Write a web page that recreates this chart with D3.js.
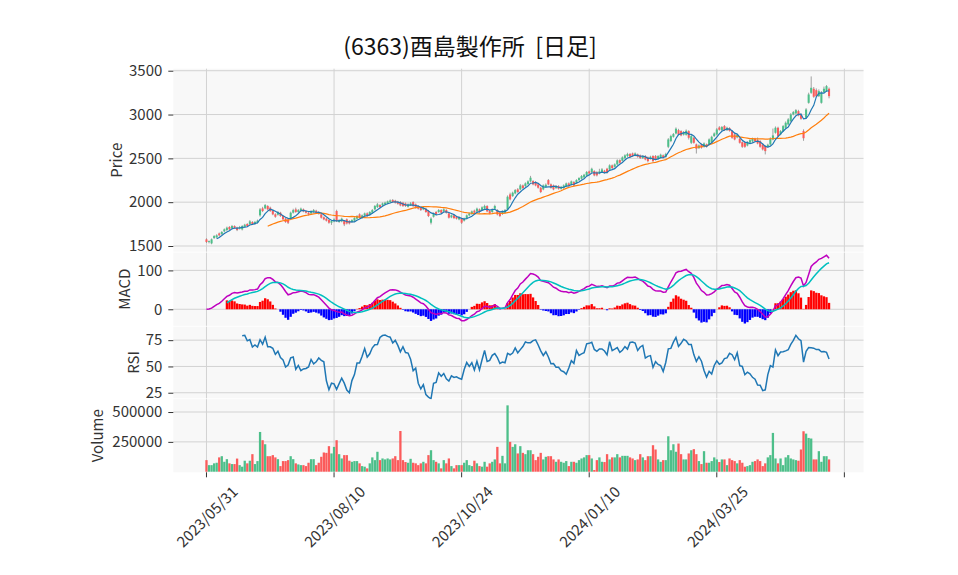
<!DOCTYPE html>
<html>
<head>
<meta charset="utf-8">
<script src="https://cdn.jsdelivr.net/npm/d3@7"></script>
<style>
  body { margin: 0; background: #fff; }
  text { font-family: "Noto Sans CJK JP", "Noto Sans", sans-serif; }
</style>
</head>
<body>
<script>
// consts / data
const w = 958;
const h = 575;
const title = "(6363)酉島製作所  [日足]";

const tickIdx = [0, 50, 100, 150, 200, 250];
const tickLabels = ["2023/05/31", "2023/08/10", "2023/10/24", "2024/01/10", "2024/03/25", ""];

const priceTicks = [1500, 2000, 2500, 3000, 3500];
const macdTicks = [0, 100];
const rsiTicks = [25, 50, 75];
const volTicks = [250000, 500000];

const opens = [
  1576,1545,1530,1591,1599,1644,1637,1667,1682,1717,
  1705,1728,1709,1698,1690,1720,1751,1751,1774,1751,
  1766,1850,1929,1929,1956,1937,1899,1861,1857,1880,
  1842,1812,1804,1819,1880,1918,1888,1903,1918,1899,
  1880,1872,1888,1903,1888,1861,1827,1812,1796,1766,
  1781,1899,1774,1781,1785,1804,1785,1774,1789,1812,
  1861,1819,1850,1872,1857,1880,1918,1944,1967,1963,
  1975,1986,2001,2024,2017,2005,2001,1994,1986,1948,
  1967,2001,1975,1956,1937,1918,1926,1899,1766,1834,
  1888,1888,1910,1895,1910,1872,1827,1850,1834,1804,
  1812,1789,1812,1850,1865,1903,1895,1918,1910,1929,
  1956,1899,1888,1926,1910,1880,1865,1880,1918,2089,
  2070,2100,2146,2146,2191,2184,2207,2237,2241,2229,
  2203,2165,2146,2176,2252,2203,2191,2161,2184,2153,
  2161,2184,2214,2199,2229,2222,2252,2268,2283,2306,
  2351,2343,2355,2343,2328,2344,2359,2382,2374,2420,
  2404,2431,2480,2473,2503,2526,2549,2556,2534,2545,
  2534,2503,2526,2511,2496,2526,2526,2496,2511,2534,
  2518,2632,2697,2746,2784,2822,2811,2770,2769,2811,
  2678,2735,2659,2617,2659,2632,2659,2659,2685,2754,
  2773,2853,2822,2868,2822,2845,2811,2773,2739,2724,
  2685,2678,2647,2678,2693,2724,2708,2697,2659,2640,
  2632,2659,2716,2792,2849,2773,2811,2849,2887,2925,
  3001,3013,3039,3001,2811,2963,3134,3248,3294,3278,
  3210,3134,3256,3267,3294
];

const closes = [
  1546,1555,1576,1614,1622,1622,1660,1690,1709,1690,
  1728,1709,1682,1717,1728,1743,1728,1781,1751,1774,
  1789,1918,1899,1967,1918,1899,1861,1834,1888,1842,
  1804,1774,1766,1880,1910,1888,1910,1926,1895,1880,
  1857,1899,1910,1880,1869,1823,1804,1789,1766,1785,
  1804,1785,1796,1812,1747,1758,1758,1796,1819,1842,
  1823,1850,1872,1842,1888,1910,1956,1975,1944,1986,
  1994,2009,2020,2001,1994,1982,1963,1956,1956,1975,
  1986,1956,1937,1926,1910,1937,1888,1842,1812,1872,
  1861,1910,1880,1918,1880,1823,1850,1819,1812,1827,
  1766,1812,1850,1872,1895,1880,1926,1888,1941,1956,
  1895,1872,1918,1956,1861,1842,1895,1910,2062,2032,
  2108,2138,2116,2191,2161,2214,2237,2279,2203,2191,
  2165,2116,2191,2199,2203,2165,2146,2184,2153,2176,
  2191,2214,2191,2237,2191,2252,2275,2298,2313,2344,
  2328,2381,2306,2306,2351,2374,2336,2336,2420,2389,
  2431,2477,2450,2511,2534,2549,2518,2526,2556,2518,
  2503,2526,2488,2469,2518,2469,2488,2526,2541,2511,
  2549,2716,2754,2777,2838,2773,2762,2800,2815,2735,
  2754,2678,2610,2647,2621,2670,2632,2716,2746,2784,
  2830,2826,2857,2822,2849,2815,2735,2716,2769,2678,
  2632,2632,2685,2708,2724,2697,2670,2632,2602,2583,
  2655,2724,2762,2849,2754,2811,2868,2906,2944,3001,
  3028,3050,2990,2952,2730,3058,3229,3305,3203,3210,
  3267,3248,3294,3324,3210
];

const highs = [
  1588,1563,1586,1624,1634,1654,1670,1700,1721,1727,
  1740,1736,1719,1729,1738,1753,1761,1795,1784,1786,
  1801,1933,1947,1979,1966,1949,1914,1873,1900,1890,
  1852,1822,1814,1892,1925,1938,1922,1938,1928,1909,
  1892,1909,1922,1913,1898,1871,1837,1822,1806,1797,
  1816,1914,1806,1824,1795,1814,1795,1806,1829,1852,
  1873,1860,1882,1884,1898,1922,1968,1990,1977,1996,
  2006,2019,2032,2036,2027,2015,2013,2004,1996,1987,
  2001,2011,1985,1966,1947,1949,1936,1911,1827,1882,
  1900,1922,1920,1930,1920,1882,1860,1860,1844,1837,
  1822,1824,1860,1882,1905,1915,1938,1928,1953,1971,
  1966,1909,1930,1971,1920,1890,1905,1922,2077,2109,
  2120,2150,2161,2206,2201,2226,2249,2300,2251,2241,
  2213,2175,2203,2214,2264,2213,2201,2196,2194,2186,
  2203,2224,2226,2247,2241,2262,2285,2310,2323,2356,
  2361,2393,2365,2353,2381,2389,2369,2392,2432,2430,
  2443,2489,2490,2523,2546,2564,2561,2566,2568,2555,
  2544,2536,2538,2521,2530,2536,2538,2536,2553,2544,
  2564,2731,2769,2789,2853,2837,2821,2812,2830,2821,
  2766,2745,2669,2659,2669,2682,2669,2728,2758,2796,
  2845,2868,2869,2880,2861,2855,2821,2783,2779,2734,
  2695,2688,2697,2718,2736,2734,2738,2707,2669,2650,
  2667,2739,2840,2864,2861,2823,2880,2921,2959,3016,
  3040,3062,3054,3013,2831,3073,3249,3435,3314,3298,
  3287,3268,3319,3336,3309
];

const lows = [
  1534,1530,1520,1581,1589,1612,1627,1657,1672,1678,
  1695,1699,1670,1688,1678,1710,1716,1741,1739,1741,
  1756,1835,1887,1919,1906,1889,1851,1822,1847,1832,
  1794,1764,1751,1809,1870,1878,1878,1893,1885,1870,
  1847,1862,1878,1870,1859,1813,1794,1779,1754,1741,
  1771,1773,1764,1771,1727,1746,1746,1764,1779,1802,
  1813,1809,1840,1832,1847,1870,1908,1934,1934,1953,
  1965,1976,1991,1991,1984,1972,1953,1946,1946,1938,
  1957,1946,1927,1916,1900,1908,1878,1830,1746,1824,
  1851,1878,1870,1885,1870,1813,1817,1807,1802,1794,
  1751,1779,1802,1840,1855,1870,1885,1878,1900,1919,
  1885,1862,1878,1916,1849,1830,1855,1870,1908,2020,
  2060,2090,2106,2136,2151,2174,2197,2227,2193,2181,
  2155,2104,2136,2166,2193,2155,2136,2151,2143,2143,
  2151,2174,2181,2189,2181,2212,2242,2258,2273,2296,
  2318,2333,2296,2294,2318,2334,2326,2326,2364,2379,
  2394,2421,2440,2463,2493,2516,2508,2516,2524,2508,
  2493,2493,2478,2454,2486,2454,2478,2486,2501,2501,
  2508,2617,2685,2736,2774,2763,2752,2760,2759,2715,
  2663,2668,2555,2607,2611,2622,2622,2649,2675,2744,
  2763,2816,2812,2812,2812,2805,2723,2706,2729,2668,
  2620,2620,2637,2668,2683,2687,2660,2622,2590,2545,
  2622,2649,2706,2782,2744,2763,2801,2839,2877,2915,
  2991,3003,2980,2940,2700,2951,3124,3236,3191,3198,
  3200,3124,3246,3257,3185
];

const volumes = [
  97000,55000,55000,70000,75000,120000,130000,83000,105000,70000,
  64000,64000,110000,55000,42000,92000,70000,92000,147000,64000,
  89000,333000,264000,230000,130000,130000,139000,120000,105000,47000,
  89000,89000,97000,130000,105000,70000,61000,55000,55000,47000,
  75000,105000,105000,55000,75000,125000,161000,158000,214000,153000,
  208000,264000,147000,111000,139000,139000,92000,83000,89000,89000,
  70000,47000,42000,28000,70000,120000,97000,167000,97000,111000,
  103000,111000,103000,111000,130000,97000,341000,97000,81000,75000,
  108000,75000,70000,55000,70000,83000,70000,139000,180000,97000,
  83000,70000,28000,97000,70000,111000,47000,28000,55000,55000,
  55000,75000,97000,55000,47000,92000,70000,47000,42000,83000,
  42000,70000,83000,103000,208000,70000,133000,70000,556000,250000,
  208000,230000,153000,214000,158000,147000,180000,180000,147000,97000,
  125000,158000,103000,125000,130000,130000,103000,83000,103000,83000,
  75000,89000,47000,83000,83000,75000,97000,111000,120000,139000,
  139000,111000,14000,97000,120000,83000,81000,147000,103000,120000,
  120000,147000,120000,133000,133000,133000,120000,111000,97000,103000,
  147000,120000,97000,130000,130000,222000,186000,103000,83000,97000,
  97000,297000,180000,230000,167000,236000,147000,103000,103000,153000,
  180000,189000,147000,89000,64000,172000,75000,75000,89000,120000,
  103000,81000,103000,103000,55000,111000,97000,89000,70000,97000,
  75000,42000,47000,55000,83000,89000,103000,89000,47000,70000,
  120000,139000,325000,111000,70000,111000,55000,120000,139000,111000,
  103000,97000,92000,186000,339000,319000,283000,278000,103000,103000,
  172000,83000,130000,130000,103000
];

// indicators from the closes
const n = closes.length;
const idx = d3.range(n);

function sma(arr, p) {
  return arr.map((d, i) => i < p - 1 ? null : d3.mean(arr.slice(i - p + 1, i + 1)));
}
function ema(arr, p) {
  const a = 2 / (p + 1);
  const out = [];
  arr.forEach((d, i) => out.push(i === 0 ? d : a * d + (1 - a) * out[i - 1]));
  return out;
}
const ma5 = sma(closes, 5);
const ma25 = sma(closes, 25);
const ema12 = ema(closes, 12);
const ema26 = ema(closes, 26);
const macd = ema12.map((d, i) => d - ema26[i]);
const signal = ema(macd, 9);
const hist = macd.map((d, i) => d - signal[i]);
const diffs = closes.map((d, i) => i === 0 ? 0 : d - closes[i - 1]);
const rsi = closes.map((d, i) => {
  if (i < 14) return null;
  const sl = diffs.slice(i - 13, i + 1);
  const g = d3.sum(sl, v => Math.max(v, 0)) / 14;
  const l = d3.sum(sl, v => Math.max(-v, 0)) / 14;
  return l === 0 ? 100 : 100 - 100 / (1 + g / l);
});

// colours
const upColor = "#4dbf8a";
const downColor = "#fb5b5b";
const wickColor = "#8a8a8a";
const gridColor = "#d2d2d2";
const panelBg = "#f8f8f8";
const textColor = "#333";
const fontSize = 15;

// layout
const left = 173.3, right = 863.5;
const panels = {
  price: [68.7, 251.7],
  macd: [252.6, 325.8],
  rsi: [326.7, 398.3],
  vol: [399.2, 472.3]
};

const xScale = d3.scaleLinear().domain([-13, 257.5]).range([left, right]);
const step = xScale(1) - xScale(0);

const yPrice = d3.scaleLinear().domain([1435, 3523]).range(panels.price.slice().reverse());
const yMacd = d3.scaleLinear().domain([-42.5, 145.8]).range(panels.macd.slice().reverse());
const yHist = d3.scaleLinear().domain([-42.5 / 1.4, 145.8 / 1.4]).range(panels.macd.slice().reverse());
const yRsi = d3.scaleLinear().domain([19.7, 87.8]).range(panels.rsi.slice().reverse());
const yVol = d3.scaleLinear().domain([-5000, 607500]).range(panels.vol.slice().reverse());

const svg = d3.select("body").append("svg")
  .attr("width", w)
  .attr("height", h);

svg.append("rect").attr("width", w).attr("height", h).attr("fill", "#fff");

// title (keep the double space)
svg.append("text")
  .attr("x", 470)
  .attr("y", 45)
  .attr("text-anchor", "middle")
  .attr("dominant-baseline", "central")
  .attr("font-size", 23)
  .attr("fill", "#111")
  .style("white-space", "pre")
  .text(title);

// panels with grids and axes
function panel(name, y, ticks, label, labelX) {
  const [top, bottom] = panels[name];
  const g = svg.append("g");
  g.append("rect")
    .attr("x", left).attr("y", top)
    .attr("width", right - left).attr("height", bottom - top)
    .attr("fill", panelBg);
  // vertical grid
  g.selectAll(".vg").data(tickIdx).enter().append("line")
    .attr("x1", d => xScale(d)).attr("x2", d => xScale(d))
    .attr("y1", top).attr("y2", bottom)
    .attr("stroke", gridColor).attr("stroke-width", 1);
  // horizontal grid
  g.selectAll(".hg").data(ticks).enter().append("line")
    .attr("x1", left).attr("x2", right)
    .attr("y1", d => y(d)).attr("y2", d => y(d))
    .attr("stroke", gridColor).attr("stroke-width", 1);

  const axis = d3.axisLeft(y).tickValues(ticks).tickSize(5).tickPadding(6).tickFormat(d3.format("d"));
  const ag = svg.append("g")
    .attr("transform", "translate(" + left + ",0)")
    .call(axis);
  ag.select(".domain").remove();
  ag.selectAll("line").attr("stroke", textColor);
  ag.selectAll("text")
    .attr("fill", textColor)
    .attr("font-size", fontSize)
    .style("font-family", '"Noto Sans CJK JP", "Noto Sans", sans-serif');

  svg.append("text")
    .attr("transform", "translate(" + labelX + "," + ((top + bottom) / 2) + ") rotate(-90)")
    .attr("text-anchor", "middle")
    .attr("dominant-baseline", "central")
    .attr("font-size", fontSize)
    .attr("fill", textColor)
    .text(label);
  return g;
}

const gPrice = panel("price", yPrice, priceTicks, "Price", 115.5);
const gMacd = panel("macd", yMacd, macdTicks, "MACD", 123.5);
const gRsi = panel("rsi", yRsi, rsiTicks, "RSI", 132.5);
const gVol = panel("vol", yVol, volTicks, "Volume", 96.5);

// candles
const candles = gPrice.selectAll(".candle").data(idx).enter().append("g");
candles.append("line")
  .attr("x1", i => xScale(i)).attr("x2", i => xScale(i))
  .attr("y1", i => yPrice(highs[i])).attr("y2", i => yPrice(lows[i]))
  .attr("stroke", wickColor).attr("stroke-width", 0.8);
candles.append("rect")
  .attr("x", i => xScale(i) - step * 0.4)
  .attr("width", step * 0.8)
  .attr("y", i => yPrice(Math.max(opens[i], closes[i])))
  .attr("height", i => Math.max(0.8, Math.abs(yPrice(opens[i]) - yPrice(closes[i]))))
  .attr("fill", i => closes[i] >= opens[i] ? upColor : downColor);

// moving averages
const maLine = arr => d3.line()
  .defined(i => arr[i] !== null)
  .x(i => xScale(i))
  .y(i => yPrice(arr[i]));

gPrice.append("path").datum(idx)
  .attr("d", maLine(ma25))
  .attr("fill", "none").attr("stroke", "#ff7f0e").attr("stroke-width", 1.2);
gPrice.append("path").datum(idx)
  .attr("d", maLine(ma5))
  .attr("fill", "none").attr("stroke", "#1f77b4").attr("stroke-width", 1.2);

// MACD
const histIdx = idx.filter(i => i >= 8);
gMacd.selectAll(".hist").data(histIdx).enter().append("rect")
  .attr("x", i => xScale(i) - step * 0.45)
  .attr("width", step * 0.9)
  .attr("y", i => Math.min(yHist(0), yHist(hist[i])))
  .attr("height", i => Math.abs(yHist(hist[i]) - yHist(0)))
  .attr("fill", i => hist[i] >= 0 ? "#ff0000" : "#0000ff");

gMacd.append("path").datum(idx)
  .attr("d", d3.line().x(i => xScale(i)).y(i => yMacd(macd[i])))
  .attr("fill", "none").attr("stroke", "#bf00bf").attr("stroke-width", 1.5);
gMacd.append("path").datum(histIdx)
  .attr("d", d3.line().x(i => xScale(i)).y(i => yMacd(signal[i])))
  .attr("fill", "none").attr("stroke", "#00bfbf").attr("stroke-width", 1.5);

// RSI
gRsi.append("path").datum(idx.filter(i => rsi[i] !== null))
  .attr("d", d3.line().x(i => xScale(i)).y(i => yRsi(rsi[i])))
  .attr("fill", "none").attr("stroke", "#1f77b4").attr("stroke-width", 1.5);

// volume
gVol.selectAll(".vol").data(idx).enter().append("rect")
  .attr("x", i => xScale(i) - step * 0.45)
  .attr("width", step * 0.9)
  .attr("y", i => yVol(volumes[i]))
  .attr("height", i => yVol(0) - yVol(volumes[i]))
  .attr("fill", i => closes[i] >= opens[i] ? upColor : downColor);

// bottom axis with date labels
const bottom = panels.vol[1];
const xg = svg.append("g");
xg.selectAll("line").data(tickIdx).enter().append("line")
  .attr("x1", i => xScale(i)).attr("x2", i => xScale(i))
  .attr("y1", bottom).attr("y2", bottom + 5)
  .attr("stroke", textColor);
xg.selectAll("text").data(tickIdx).enter().append("text")
  .attr("transform", i => "translate(" + xScale(i) + "," + 516 + ") rotate(-45)")
  .attr("text-anchor", "middle")
  .attr("dominant-baseline", "central")
  .attr("font-size", fontSize)
  .attr("fill", textColor)
  .text((i, k) => tickLabels[k]);
</script>
</body>
</html>
